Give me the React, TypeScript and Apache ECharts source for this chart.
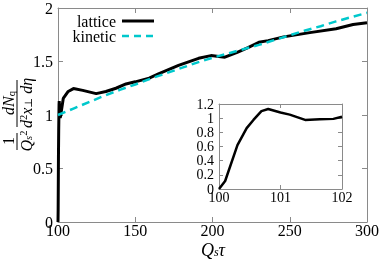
import React, { useEffect, useRef } from "react";
import * as echarts from "echarts";

// lattice curve, early part (also shown in the inset)
const latticeEarlyT = [100, 100.1, 100.3, 100.45, 100.56, 100.69, 100.8, 101, 101.15, 101.4, 101.64, 101.86, 102];
const latticeEarlyN = [0, 0.113, 0.62, 0.86, 0.975, 1.1, 1.13, 1.08, 1.05, 0.975, 0.985, 0.99, 1.02];
// lattice curve, later part
const latticeLateT = [103.4, 106.6, 110, 116, 124.7, 131, 137.5, 144, 150, 159, 165, 178, 191, 199, 208, 216, 223, 230, 236, 246, 263, 280, 291, 300];
const latticeLateN = [1.155, 1.22, 1.247, 1.23, 1.2, 1.22, 1.25, 1.29, 1.31, 1.345, 1.385, 1.463, 1.53, 1.555, 1.54, 1.585, 1.63, 1.68, 1.695, 1.73, 1.77, 1.806, 1.846, 1.862];
// kinetic curve
const kineticT = [100, 105, 110, 120, 130, 140, 150, 160, 170, 180, 190, 200, 210, 220, 230, 240, 250, 260, 270, 280, 290, 300];
const kineticN = [1.0, 1.03, 1.06, 1.12, 1.18, 1.235, 1.285, 1.34, 1.39, 1.44, 1.49, 1.535, 1.575, 1.615, 1.655, 1.7, 1.745, 1.79, 1.83, 1.875, 1.915, 1.955];

const seriesNames = ["lattice", "kinetic"];

const FONT = "'Liberation Serif', 'DejaVu Serif', serif";
const FRAME = "#8a8a8a";
const CYAN = "#00c8cc";

const pairs = (xs: number[], ys: number[]) => xs.map((x, i) => [x, ys[i]]);

export default function App() {
  const ref = useRef<HTMLDivElement>(null);
  useEffect(() => {
    const chart = echarts.init(ref.current!, null, { renderer: "svg" });

    const valAxis = (o: any, showLabel: boolean, fontSize: number, margin: number, tickLen: number, fmt?: any) => ({
      type: "value",
      ...o,
      axisLine: { show: true, onZero: false, lineStyle: { color: FRAME, width: 1 } },
      axisTick: { show: true, inside: true, length: tickLen, lineStyle: { color: FRAME, width: 1 } },
      axisLabel: {
        show: showLabel,
        color: "#000",
        fontSize,
        fontFamily: FONT,
        margin,
        lineHeight: fontSize - 5,
        formatter: fmt,
      },
      splitLine: { show: false },
    });

    const fmt1 = (v: number) => String(Math.round(v * 10) / 10);

    const mkRich = (fs: number, lh: number, sfs: number, slh: number) => ({
      i: { fontFamily: FONT, fontStyle: "italic", fontSize: fs, lineHeight: lh, verticalAlign: "middle" },
      r: { fontFamily: FONT, fontSize: fs, lineHeight: lh, verticalAlign: "middle" },
      sub: { fontFamily: FONT, fontStyle: "italic", fontSize: sfs, lineHeight: slh, verticalAlign: "bottom" },
      subr: { fontFamily: FONT, fontSize: sfs, lineHeight: slh, verticalAlign: "bottom" },
      sup: { fontFamily: FONT, fontSize: sfs, lineHeight: slh, verticalAlign: "top" },
    });
    const richY = mkRich(16, 16, 10.5, 9);
    const richX = mkRich(18, 16, 12, 9);

    chart.setOption({
      animation: false,
      grid: [
        { left: 58, right: 11, top: 5, bottom: 38, show: false },
        { left: 219, right: 40, top: 104, bottom: 71, show: true, backgroundColor: "#fff", borderWidth: 0 },
      ],
      xAxis: [
        valAxis({ gridIndex: 0, min: 100, max: 300, interval: 50, position: "bottom" }, true, 16, 3, 5),
        valAxis({ gridIndex: 0, min: 100, max: 300, interval: 50, position: "top" }, false, 16, 2, 5),
        valAxis({ gridIndex: 1, min: 100, max: 102, interval: 1, position: "bottom" }, true, 14, 4, 4),
        valAxis({ gridIndex: 1, min: 100, max: 102, interval: 1, position: "top" }, false, 14, 3, 4),
      ],
      yAxis: [
        valAxis({ gridIndex: 0, min: 0, max: 2, interval: 0.5, position: "left" }, true, 16, 5, 5, fmt1),
        valAxis({ gridIndex: 0, min: 0, max: 2, interval: 0.5, position: "right" }, false, 16, 5, 5),
        valAxis({ gridIndex: 1, min: 0, max: 1.2, interval: 0.2, position: "left" }, true, 14, 5, 4, fmt1),
        valAxis({ gridIndex: 1, min: 0, max: 1.2, interval: 0.2, position: "right" }, false, 14, 5, 4),
      ],
      series: [
        {
          name: seriesNames[0],
          type: "line",
          xAxisIndex: 0,
          yAxisIndex: 0,
          data: pairs(latticeEarlyT.concat(latticeLateT), latticeEarlyN.concat(latticeLateN)),
          symbol: "none",
          lineStyle: { color: "#000", width: 3 },
          z: 3,
        },
        {
          name: seriesNames[1],
          type: "line",
          xAxisIndex: 0,
          yAxisIndex: 0,
          data: pairs(kineticT, kineticN),
          symbol: "none",
          lineStyle: { color: CYAN, width: 2.5, type: [8, 5] },
          z: 4,
        },
        {
          name: "lattice inset",
          type: "line",
          xAxisIndex: 2,
          yAxisIndex: 2,
          data: pairs(latticeEarlyT, latticeEarlyN),
          symbol: "none",
          lineStyle: { color: "#000", width: 2.5 },
          z: 5,
        },
      ],
      graphic: [
        // legend
        { type: "text", x: 116, y: 21, style: { text: seriesNames[0], align: "right", verticalAlign: "middle", fontSize: 16, lineHeight: 13, fontFamily: FONT, fill: "#000" } },
        { type: "line", shape: { x1: 122, y1: 21, x2: 154, y2: 21 }, style: { stroke: "#000", lineWidth: 3 } },
        { type: "text", x: 116, y: 36, style: { text: seriesNames[1], align: "right", verticalAlign: "middle", fontSize: 16, lineHeight: 13, fontFamily: FONT, fill: "#000" } },
        { type: "line", shape: { x1: 122, y1: 36, x2: 154, y2: 36 }, style: { stroke: CYAN, lineWidth: 2.5, lineDash: [7, 5] } },
        // x-axis title
        {
          type: "text",
          x: 213,
          y: 250,
          style: { text: "{i|Q}{sub|s}{i|τ}", align: "center", verticalAlign: "middle", rich: richX, fill: "#000" },
        },
        // y-axis title (rotated)
        {
          type: "group",
          x: 17,
          y: 113,
          rotation: Math.PI / 2,
          children: [
            { type: "text", x: -28, y: -0.5, style: { text: "{r|1}", align: "center", verticalAlign: "bottom", rich: richY, fill: "#000" } },
            { type: "line", shape: { x1: -37, y1: 0, x2: -20, y2: 0 }, style: { stroke: "#000", lineWidth: 1 } },
            { type: "text", x: -28, y: 1, style: { text: "{i|Q}{sub|s}{sup|2}", align: "center", verticalAlign: "top", rich: richY, fill: "#000" } },
            { type: "line", shape: { x1: -14, y1: 0, x2: 33, y2: 0 }, style: { stroke: "#000", lineWidth: 1 } },
            { type: "text", x: 10, y: -0.5, style: { text: "{i|dN}{subr|q}", align: "center", verticalAlign: "bottom", rich: richY, fill: "#000" } },
            { type: "text", x: 10, y: 1, style: { text: "{i|d}{sup|2}{i|x}{subr|⊥}{i| dη}", align: "center", verticalAlign: "top", rich: richY, fill: "#000" } },
          ],
        },
      ],
    });
    return () => chart.dispose();
  }, []);
  return <div ref={ref} style={{ position: "fixed", left: 0, top: 0, width: 382, height: 260 }} />;
}
